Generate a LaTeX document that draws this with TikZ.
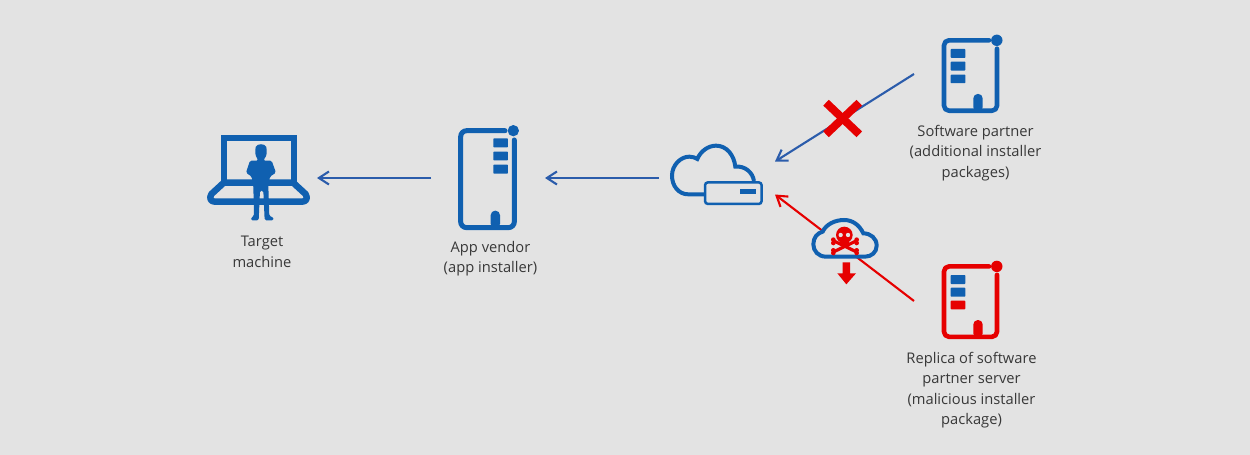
\documentclass[tikz,border=0pt]{standalone}
\usepackage{fontspec}
\setmainfont{Open Sans}
\usetikzlibrary{arrows.meta}
\definecolor{bgc}{HTML}{E3E3E3}
\definecolor{iconblue}{HTML}{1060B0}
\definecolor{linkblue}{HTML}{2B5CAB}
\definecolor{alarm}{HTML}{E60000}
\definecolor{labelc}{HTML}{383838}
\tikzset{
  x=1pt, y=-1pt,
  anchorbox/.style={inner sep=0pt, outer sep=0pt, minimum width=#1},
  caption/.style={align=center, text=labelc, font=\fontsize{14.7}{20.5}\selectfont, inner sep=0pt},
  link/.style={line width=2.1pt, -{Straight Barb[length=10pt,width=13pt,line width=2.1pt]}},
  safe/.style={link, draw=linkblue},
  bad/.style={link, draw=alarm},
  zoomed/.style={shift={(#1)}, x=0.3333pt, y=-0.3333pt},
  pics/server/.style n args={3}{code={
    % frame, status dot, drive bars and door of a server; the third bar may be coloured apart
    \draw[#1, line width=4.6pt, line cap=round, line join=round, rounded corners=5pt]
      (51,2.6) -- (6,2.6) -- (6,73) -- (59,73) -- (59,11);
    \fill[#1] (58.8,2.6) circle (5.7pt);
    \fill[#3, rounded corners=0.7pt] (12.7,11.2) rectangle (27.3,20.2);
    \fill[#3, rounded corners=0.7pt] (12.7,23.9) rectangle (27.3,32.9);
    \fill[#2, rounded corners=0.7pt] (12.7,36.9) rectangle (27.3,45.5);
    \fill[#1, rounded corners=4.5pt] (35.3,74) -- (35.3,56.2) -- (44.7,56.2) -- (44.7,74) -- cycle;
  }}
}
\begin{document}
\begin{tikzpicture}
\useasboundingbox (0,0) rectangle (1250,455);
\fill[bgc] (0,0) rectangle (1250,455);

% layout anchors for the connectors
\node[anchorbox=110pt, minimum height=100pt] (laptop) at (262,178) {};
\node[anchorbox=114pt, minimum height=100pt] (vendor) at (488,178) {};
\node[anchorbox=116pt, minimum height=33pt] (cloud) at (717,178) {};
\node[anchorbox=116pt, minimum height=75pt] (partner) at (972,74) {};
\node[anchorbox=116pt, minimum height=75pt] (replica) at (972,301) {};

% connectors
\draw[safe] (vendor.west) -- (laptop.east);
\draw[safe] (cloud.west) -- (vendor.east);
\draw[safe] (partner.west) -- (cloud.north east);
\draw[bad] (replica.west) -- (cloud.south east);

% blocked marker on the partner link
\draw[alarm, line width=8pt] (826,102.7) -- (859.3,134.3);
\draw[alarm, line width=8pt] (859.3,102.7) -- (826,134.3);

% laptop with a standing figure
\draw[iconblue, line width=6pt] (223.7,183) -- (223.7,138) -- (293.7,138) -- (293.7,183);
\draw[iconblue, line width=6.5pt, line join=round]
  (224,182.5) -- (211.5,194) .. controls (209.5,197) and (210,201.5) .. (214,201.5)
  -- (303,201.5) .. controls (307,201.5) and (307.5,197) .. (305.5,194) -- (293,182.5) -- cycle;
\begin{scope}[zoomed={190,120}]
  \fill[iconblue, rounded corners=1.5pt] (196,85) .. controls (200,70) and (226,70) .. (230,85)
    -- (230,105) -- (220,122) -- (245,122) -- (258,158) -- (240,170) -- (235,198)
    -- (238,288) -- (251,293) -- (251,301) -- (224,301) -- (220,212) -- (210,212) -- (206,301)
    -- (183,301) -- (183,293) -- (192,288) -- (190,198) -- (185,170) -- (168,158)
    -- (180,122) -- (205,122) -- (196,105) -- cycle;
\end{scope}

% vendor server
\begin{scope}[zoomed={440,115}]
  \draw[iconblue, line width=5pt, line cap=round, rounded corners=6pt] (195,47) -- (62,47) -- (62,338) -- (223,338) -- (223,75);
  \fill[iconblue] (220,47) circle (17);
  \foreach \ya/\yb in {70/97,110/136,149/176}
    \fill[iconblue, rounded corners=0.7pt] (160,\ya) rectangle (204,\yb);
  \fill[iconblue, rounded corners=4.5pt] (152,340) -- (152,287) -- (180,287) -- (180,340) -- cycle;
\end{scope}

% partner and replica servers
\pic at (938,37.7) {server={iconblue}{iconblue}{iconblue}};
\pic at (938,263.8) {server={alarm}{alarm}{iconblue}};

% cloud with a storage box
\begin{scope}[zoomed={660,135}]
  \draw[iconblue, line width=4pt]
    (132,178) -- (85,178) .. controls (55,178) and (36,152) .. (36,122)
    .. controls (36,90) and (62,65) .. (88,65) .. controls (98,65) and (106,68) .. (112,72)
    .. controls (122,48) and (145,32) .. (168,32) .. controls (200,32) and (222,60) .. (226,95)
    .. controls (255,92) and (278,112) .. (282,138);
  \draw[iconblue, line width=2.5pt, rounded corners=3pt] (135,142) rectangle (305,207);
  \fill[iconblue] (240,163) rectangle (287,178);
\end{scope}

% cloud holding a skull, with a download arrow beneath it
\begin{scope}[zoomed={800,205}]
  \draw[iconblue, fill=bgc, line width=4pt]
    (78,155) .. controls (55,155) and (40,138) .. (40,118)
    .. controls (40,98) and (52,84) .. (68,80)
    .. controls (78,58) and (105,45) .. (132,45)
    .. controls (158,45) and (178,60) .. (190,85)
    .. controls (212,85) and (230,100) .. (230,122)
    .. controls (230,142) and (214,155) .. (195,155) -- cycle;
  \draw[alarm, line width=3.2pt] (102,108) -- (168,140);
  \draw[alarm, line width=3.2pt] (102,140) -- (168,108);
  \fill[alarm] (100,104) circle (7) (100,114) circle (7) (100,136) circle (7) (100,144) circle (7)
    (170,104) circle (7) (170,114) circle (7) (170,136) circle (7) (170,144) circle (7);
  \fill[alarm] (133,90) circle (25);
  \fill[alarm] (120,100) rectangle (146,120);
  \fill[bgc] (122,90) circle (6.5) (144,90) circle (6.5);
  \fill[alarm] (128,172) -- (150,172) -- (150,205) -- (168,205) -- (139,238) -- (112,205) -- (128,205) -- cycle;
\end{scope}

% captions
\node[caption] (laptoplabel) at (262,252) {Target\\machine};
\node[caption] (vendorlabel) at (490.5,258.5) {App vendor\\(app installer)};
\node[caption] (partnerlabel) at (975.5,153) {Software partner\\(additional installer\\packages)};
\node[caption] (replicalabel) at (971.5,390) {Replica of software\\partner server\\(malicious installer\\package)};
\end{tikzpicture}
\end{document}
